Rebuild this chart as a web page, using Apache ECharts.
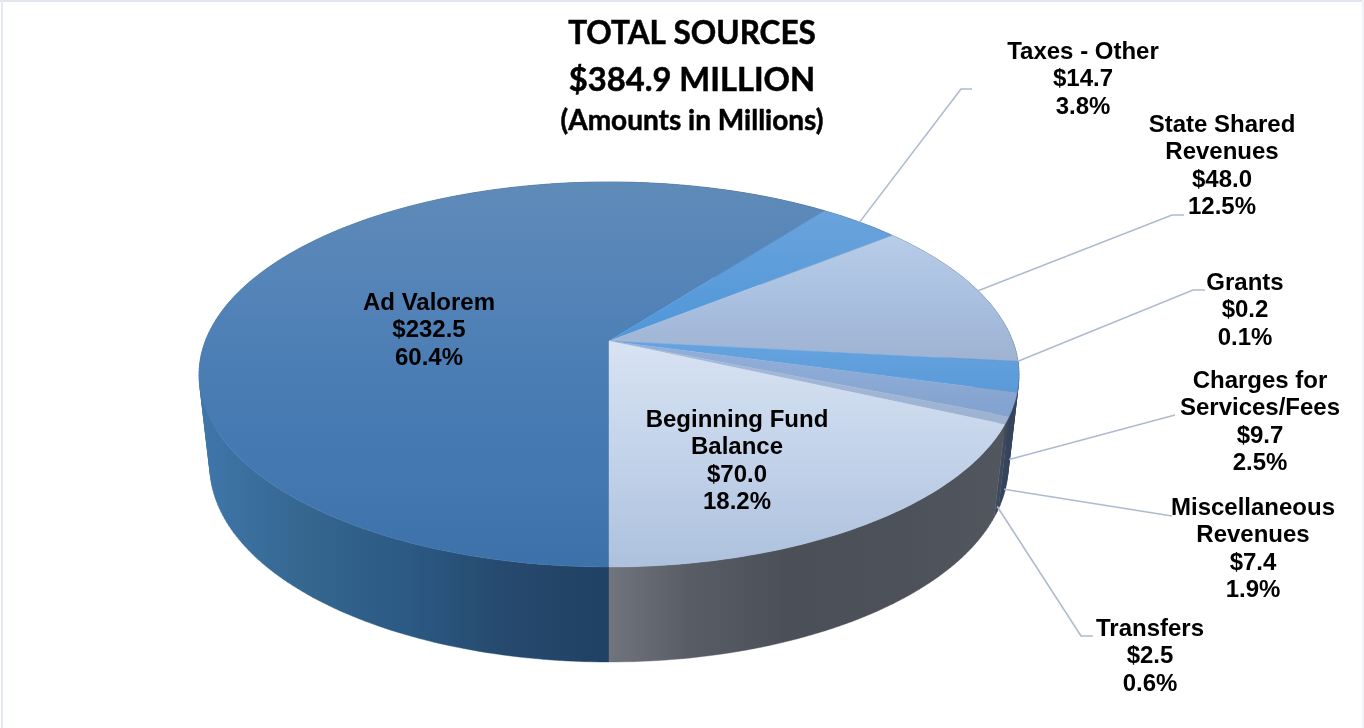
<!DOCTYPE html>
<html>
<head>
<meta charset="utf-8">
<title>Total Sources</title>
<style>html,body{margin:0;padding:0;background:#fff}#chart{width:1364px;height:728px}</style>
<script src="https://cdn.jsdelivr.net/npm/echarts@6/dist/echarts.min.js"></script>
</head>
<body>
<div id="chart"></div>
<script>
// Revenue sources, clockwise from six o'clock
const categories = ['Ad Valorem', 'Taxes - Other', 'State Shared\nRevenues', 'Grants',
  'Charges for\nServices/Fees', 'Miscellaneous\nRevenues', 'Transfers', 'Beginning Fund\nBalance'];
const amounts = [232.5, 14.7, 48.0, 0.2, 9.7, 7.4, 2.5, 70.0];
const shares = ['60.4', '3.8', '12.5', '0.1', '2.5', '1.9', '0.6', '18.2'];
const titleLines = ['TOTAL SOURCES', '$384.9 MILLION', '(Amounts in Millions)'];

const total = amounts.reduce((a, b) => a + b, 0);

// Perspective projection of the disc: top rim and the smaller, more distant bottom rim
const TOP = { cx: 609, cy: 341, t: 403.7, s: 186.7, k: 0.174 };
const BOTTOM = { cx: 609, cy: 432, t: 393, s: 190, k: 0.174 };
function project(p, deg) {
  const a = deg * Math.PI / 180, X = Math.sin(a), Y = -Math.cos(a), w = 1 - p.k * Y;
  return [p.cx + p.t * X / w, p.cy + p.s * Y / w];
}
function arc(p, from, to) {
  const pts = [], n = Math.max(2, Math.ceil(Math.abs(to - from)));
  for (let i = 0; i <= n; i++) pts.push(project(p, from + (to - from) * i / n));
  return pts;
}
// Start and end angle of each slice
const spans = [];
amounts.reduce((start, v) => {
  const end = start + v / total * 360;
  spans.push([start, end]);
  return end;
}, 180);

const G = echarts.graphic.LinearGradient;
const vert = stops => new G(0, 0, 0, 1, stops.map((c, i) => ({ offset: stops.length > 1 ? i / (stops.length - 1) : 0, color: c })));
const horiz = (x0, x1, stops) => new G(x0, 0, x1, 0, stops.map(([o, c]) => ({ offset: o, color: c })), true);

const faceFills = [
  vert(['#5f8bb8', '#5584b8', '#4a7db4', '#4378b0', '#3c72a9']),
  vert(['#6aa3dc', '#4f96d9']),
  vert(['#b7cde8', '#a9c0e0', '#9fb2d2']),
  vert(['#8fb4e0', '#8fb4e0']),
  vert(['#66a3e0', '#5a9ad8']),
  vert(['#93b0da', '#82a2cf']),
  vert(['#a6bad9', '#9db1d1']),
  vert(['#d8e3f2', '#c3d3ea', '#adc1dd'])
];
const leftWall = horiz(200, 609, [[0, '#3f76ab'], [0.25, '#35678f'], [0.5, '#2b5a85'], [0.75, '#26496d'], [1, '#1f4163']]);
const rightDark = '#3a4658';
const wallFills = [
  leftWall, leftWall, rightDark, rightDark, rightDark, '#34445a', '#3e4a5c',
  horiz(609, 1005, [[0, '#70757d'], [0.2, '#595e66'], [0.45, '#4b4f58'], [0.75, '#4d5159'], [1, '#52575f']])
];

// Where each label's first line sits, its leader bend points, and how far down the wall the leader starts
const labelLayout = [
  { x: 429, y: 303 },
  { x: 1083, y: 52, bend: [[961, 89], [972, 89]], drop: 0 },
  { x: 1222, y: 125, bend: [[1172, 215], [1184, 215]], drop: 0 },
  { x: 1245, y: 283, bend: [[1193, 290], [1205, 290]], drop: 0 },
  { x: 1260, y: 381, bend: [[1175, 415]], drop: 0.9 },
  { x: 1253, y: 508, bend: [[1172, 516]], drop: 0.92 },
  { x: 1150, y: 629, bend: [[1081, 636], [1093, 636]], drop: 0.93 },
  { x: 737, y: 420 }
];
const LINE_HEIGHT = 27.6;
const sliceData = amounts.map((v, i) => [i, v]);

// One path per slice: a sweep of same-wound quads, so the outline follows the tangent between both rims
function wallItem(params, api) {
  const i = api.value(0), [a, b] = spans[i];
  const up = arc(TOP, a, b), down = arc(BOTTOM, a, b);
  let pathData = '';
  for (let n = 0; n < up.length - 1; n++) {
    const quad = [up[n], up[n + 1], down[n + 1], down[n]];
    let area = 0;
    quad.forEach((p, j) => {
      const q = quad[(j + 1) % 4];
      area += p[0] * q[1] - q[0] * p[1];
    });
    if (area < 0) quad.reverse();
    pathData += 'M' + quad.map(p => p[0].toFixed(2) + ' ' + p[1].toFixed(2)).join('L') + 'Z';
  }
  return { type: 'path', shape: { pathData }, style: { fill: wallFills[i], stroke: wallFills[i], lineWidth: 0.4 }, silent: true };
}
function faceItem(params, api) {
  const i = api.value(0), [a, b] = spans[i];
  const points = [[TOP.cx, TOP.cy]].concat(arc(TOP, a, b));
  return { type: 'polygon', shape: { points }, style: { fill: faceFills[i], stroke: faceFills[i], lineWidth: 0.4 }, silent: true };
}
function labelItem(params, api) {
  const i = api.value(0), [a, b] = spans[i], pos = labelLayout[i], children = [];
  if (pos.bend) {
    const mid = (a + b) / 2, p = project(TOP, mid), q = project(BOTTOM, mid);
    const start = [p[0] + (q[0] - p[0]) * pos.drop, p[1] + (q[1] - p[1]) * pos.drop];
    children.push({ type: 'polyline', shape: { points: [start].concat(pos.bend) }, style: { stroke: '#adbbd0', lineWidth: 1.6, fill: 'none' } });
  }
  const lines = categories[i].split('\n').concat('$' + api.value(1).toFixed(1), shares[i] + '%');
  lines.forEach((text, n) => children.push({
    type: 'text',
    style: { text, x: pos.x, y: pos.y + n * LINE_HEIGHT, align: 'center', verticalAlign: 'middle',
      font: 'bold 24px "Liberation Sans", Arial, sans-serif', fill: '#000' }
  }));
  return { type: 'group', children, silent: true };
}

const chart = echarts.init(document.getElementById('chart'), null, { renderer: 'canvas' });
const titleStyle = size => ({ fontFamily: 'Lato', fontWeight: 'bold', fontSize: size, color: '#000', textBorderColor: '#000', textBorderWidth: 0.5 });
chart.setOption({
  animation: false,
  backgroundColor: '#fff',
  title: [
    { text: titleLines[0], left: 687, top: 13, textAlign: 'center', textStyle: titleStyle(31.5) },
    { text: titleLines[1], left: 687, top: 59, textAlign: 'center', textStyle: titleStyle(32.7) },
    { text: titleLines[2], left: 687, top: 102, textAlign: 'center', textStyle: titleStyle(28) }
  ],
  graphic: [
    { type: 'rect', shape: { x: 0, y: 0, width: 1364, height: 2 }, style: { fill: '#e0e6ec' }, silent: true },
    { type: 'rect', shape: { x: 1, y: 0, width: 2, height: 728 }, style: { fill: '#e4e9ef' }, silent: true },
    { type: 'rect', shape: { x: 1362, y: 0, width: 2, height: 728 }, style: { fill: '#f0f2f5' }, silent: true }
  ],
  series: [
    { type: 'custom', z: 1, coordinateSystem: 'none', renderItem: wallItem, data: sliceData },
    { type: 'custom', z: 2, coordinateSystem: 'none', renderItem: faceItem, data: sliceData },
    { type: 'custom', z: 3, coordinateSystem: 'none', renderItem: labelItem, data: sliceData }
  ]
});
</script>
</body>
</html>
